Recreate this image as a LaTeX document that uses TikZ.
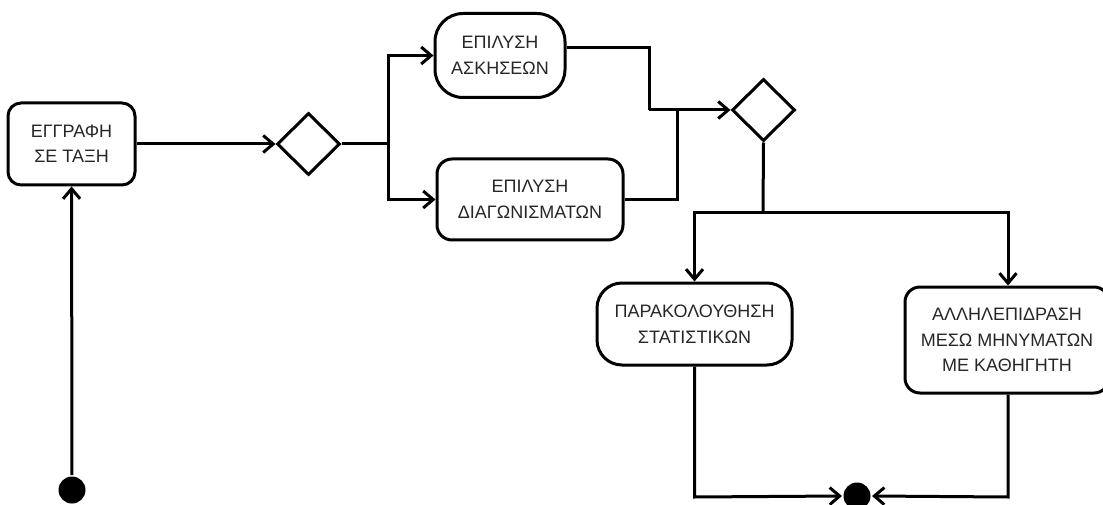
\documentclass[tikz,border=0pt]{standalone}
\usepackage{fontspec}
\setmainfont{Liberation Sans}
\usetikzlibrary{shapes.geometric,arrows.meta,calc}
\definecolor{inkline}{HTML}{000000}
\definecolor{inktext}{HTML}{262626}
\begin{document}
\begin{tikzpicture}[x=1pt,y=-1pt,
  line width=3pt,
  act/.style={draw=inkline, rectangle, rounded corners=#1, align=center,
    inner sep=0pt, font=\fontsize{18}{25.5}\selectfont, text=inktext},
  act/.default=15pt,
  decision/.style={draw=inkline, diamond, inner sep=0pt,
    minimum width=63pt, minimum height=62pt},
  dot/.style={circle, fill=black, inner sep=0pt, minimum size=27pt},
  flow/.style={draw=inkline, -{Straight Barb[length=10pt,width=17pt]}},
  wire/.style={draw=inkline}
]
\useasboundingbox (0,0) rectangle (1103,505);

% activities
\node[act=13pt, minimum width=127pt, minimum height=82pt] (enrol) at (71.5,144) {ΕΓΓΡΑΦΗ\\ΣΕ ΤΑΞΗ};
\node[act=28pt, minimum width=130pt, minimum height=84pt] (exer) at (500,55.5) {ΕΠΙΛΥΣΗ\\ΑΣΚΗΣΕΩΝ};
\node[act=15pt, minimum width=186pt, minimum height=81pt] (tests) at (530,199.5) {ΕΠΙΛΥΣΗ\\ΔΙΑΓΩΝΙΣΜΑΤΩΝ};
\node[act=25pt, minimum width=195pt, minimum height=82pt] (stats) at (694.5,324) {ΠΑΡΑΚΟΛΟΥΘΗΣΗ\\ΣΤΑΤΙΣΤΙΚΩΝ};
\node[act=15pt, minimum width=204pt, minimum height=106pt] (msgs) at (1007,340) {ΑΛΛΗΛΕΠΙΔΡΑΣΗ\\ΜΕΣΩ ΜΗΝΥΜΑΤΩΝ\\ΜΕ ΚΑΘΗΓΗΤΗ};

% decisions
\node[decision] (split) at (308.5,144) {};
\node[decision] (merge) at (763.5,110) {};

% start and end
\node[dot] (start) at (72,490) {};
\node[dot] (finish) at (857,496) {};

% routing points
\coordinate (fork) at (388,144);
\coordinate (exerout) at ($(exer.east)+(0,-8)$);
\coordinate (joinA) at (649,110);
\coordinate (joinB) at (677,110);
\coordinate (branch) at (763,213);
\coordinate (msgin) at (1008,213);
\coordinate (floor) at (0,497);

% connectors
\draw[flow] (start) -- (enrol);
\draw[flow] (enrol) -- (split.west);
\draw[wire] (split.east) -- (fork);
\draw[flow] (fork) |- (exer.west);
\draw[flow] (fork) |- (tests.west);
\draw[wire] (exerout) -| (joinA);
\draw[wire] (tests.east) -| (joinB);
\draw[flow] (joinA) -- (merge.west);
\draw[wire] (merge.south) -- (branch);
\draw[flow] (branch) -| (stats.north);
\draw[flow] (branch) -- (msgin) -- (msgin |- msgs.north);
\draw[flow] (stats.south) -- (stats.south |- floor) -- (finish.west);
\draw[flow] (msgin |- msgs.south) -- (msgin |- floor) -- (finish.east);
\end{tikzpicture}
\end{document}
